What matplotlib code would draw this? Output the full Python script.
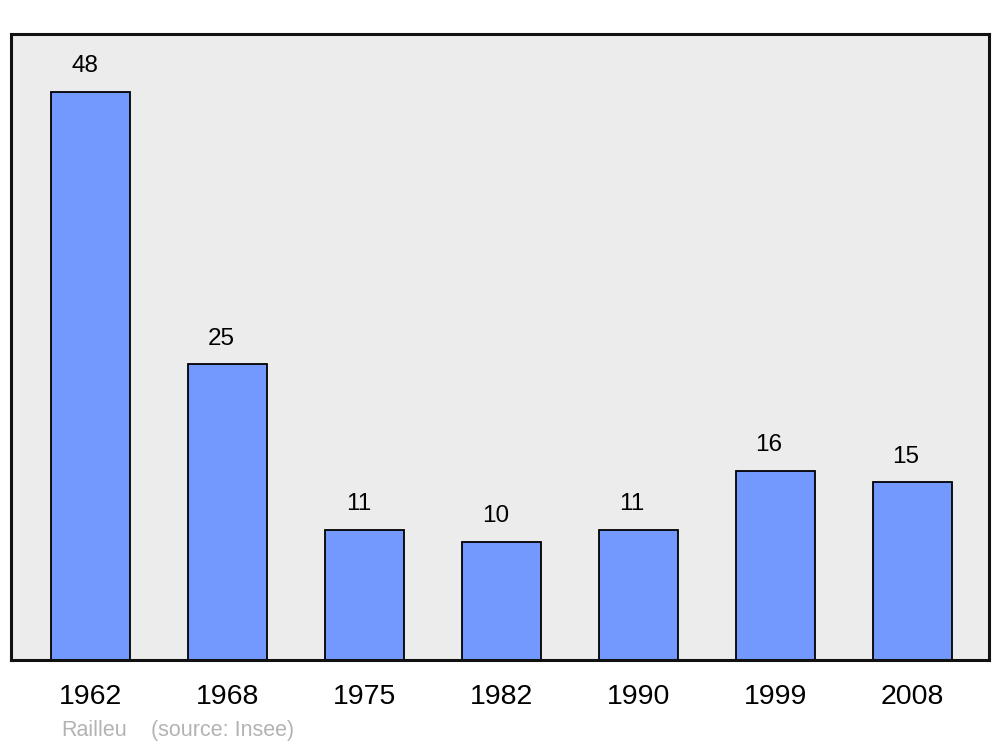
import matplotlib.pyplot as plt

# Donnees (population de Railleu)
annees = ['1962', '1968', '1975', '1982', '1990', '1999', '2008']
population = [48, 25, 11, 10, 11, 16, 15]

plt.rcParams['font.family'] = ['Liberation Sans', 'DejaVu Sans']

fig = plt.figure(figsize=(10, 7.47), dpi=100)
ax = fig.add_axes([0.011, 0.1165, 0.978, 0.838])
ax.set_facecolor('#ececec')

x = range(len(annees))
bars = ax.bar(x, population, width=0.577, color='#7399ff',
              edgecolor='black', linewidth=1.3, zorder=2)

# etiquettes des valeurs, un peu decalees a gauche comme l'original
for xi, v in zip(x, population):
    ax.annotate(str(v), (xi, v), xytext=(-4.5, 10.5), textcoords='offset points',
                ha='center', va='bottom', fontsize=17.5)

ax.set_xlim(-0.584, 6.562)
ax.set_ylim(0, 52.9)
ax.set_xticks(list(x))
ax.set_xticklabels(annees, fontsize=20.5)
ax.tick_params(axis='x', length=0, pad=17)
ax.set_yticks([])
for s in ax.spines.values():
    s.set_linewidth(2.2)
    s.set_color('#111111')

fig.text(0.061, 0.0227, 'Railleu', color='#b3b3b3', fontsize=15.5, va='center')
fig.text(0.151, 0.0227, '(source: Insee)', color='#b3b3b3', fontsize=15.5, va='center')

fig.savefig('out.png', dpi=100)
